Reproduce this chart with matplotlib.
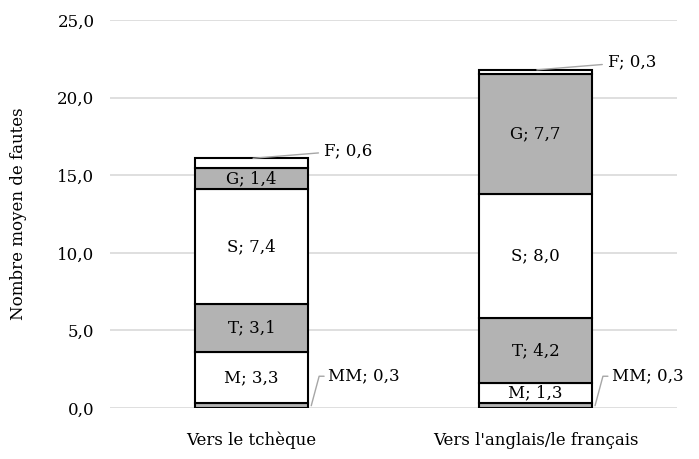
import matplotlib
matplotlib.use("Agg")
import matplotlib.pyplot as plt
import numpy as np

categories = ["Vers le tchèque", "Vers l'anglais/le français"]
segments = ["MM", "M", "T", "S", "G", "F"]
values = {
    "MM": [0.3, 0.3],
    "M": [3.3, 1.3],
    "T": [3.1, 4.2],
    "S": [7.4, 8.0],
    "G": [1.4, 7.7],
    "F": [0.6, 0.3],
}
colors = {"MM": "#b3b3b3", "M": "white", "T": "#b3b3b3", "S": "white", "G": "#b3b3b3", "F": "white"}
yticks = [0, 5, 10, 15, 20, 25]

plt.rcParams['font.family'] = ['DejaVu Serif']
fig = plt.figure(figsize=(6.99, 4.59), dpi=100)
ax = fig.add_axes([0.157, 0.111, 0.812, 0.845])

x = np.arange(len(categories))
width = 0.4
bottom = np.zeros(len(categories))
fs = 12
for seg in segments:
    v = np.array(values[seg])
    ax.bar(x, v, width, bottom=bottom, color=colors[seg], edgecolor="black", linewidth=1.5, zorder=3)
    for i in range(len(categories)):
        lab = f"{seg}; {str(v[i]).replace('.', ',')}"
        if seg == "MM":
            ax.annotate(lab, xy=(x[i] + width / 2 + 0.01, bottom[i] + v[i] / 2),
                        xytext=(x[i] + width / 2 + 0.07, 2.05), fontsize=fs, va="center", ha="left",
                        arrowprops=dict(arrowstyle="-", color="#a6a6a6", lw=1,
                                        connectionstyle="angle,angleA=0,angleB=75,rad=0",
                                        shrinkA=1, shrinkB=0))
        elif seg == "F":
            ax.annotate(lab, xy=(x[i] + 0.005, bottom[i] + v[i]),
                        xytext=(x[i] + width / 2 + 0.055, bottom[i] + v[i] + 0.5), fontsize=fs,
                        va="center", ha="left",
                        arrowprops=dict(arrowstyle="-", color="#a6a6a6", lw=1,
                                        shrinkA=2, shrinkB=0))
        else:
            ax.text(x[i], bottom[i] + v[i] / 2, lab, ha="center", va="center", fontsize=fs, zorder=4)
    bottom += v

ax.set_xlim(-0.5, 1.5)
ax.set_ylim(0, 25)
ax.set_yticks(yticks)
ax.set_yticklabels([f"{t:.1f}".replace('.', ',') for t in yticks], fontsize=fs)
ax.set_xticks(x)
ax.set_xticklabels(categories, fontsize=fs)
ax.tick_params(axis='x', length=0, pad=17)
ax.tick_params(axis='y', length=0, pad=11)
ax.grid(axis='y', color="#d9d9d9", linewidth=1.2, zorder=0)
ax.set_axisbelow(True)
for s in ax.spines.values():
    s.set_visible(False)
ax.set_ylabel("Nombre moyen de fautes", fontsize=fs, labelpad=22)

fig.savefig("out.png", dpi=100)
